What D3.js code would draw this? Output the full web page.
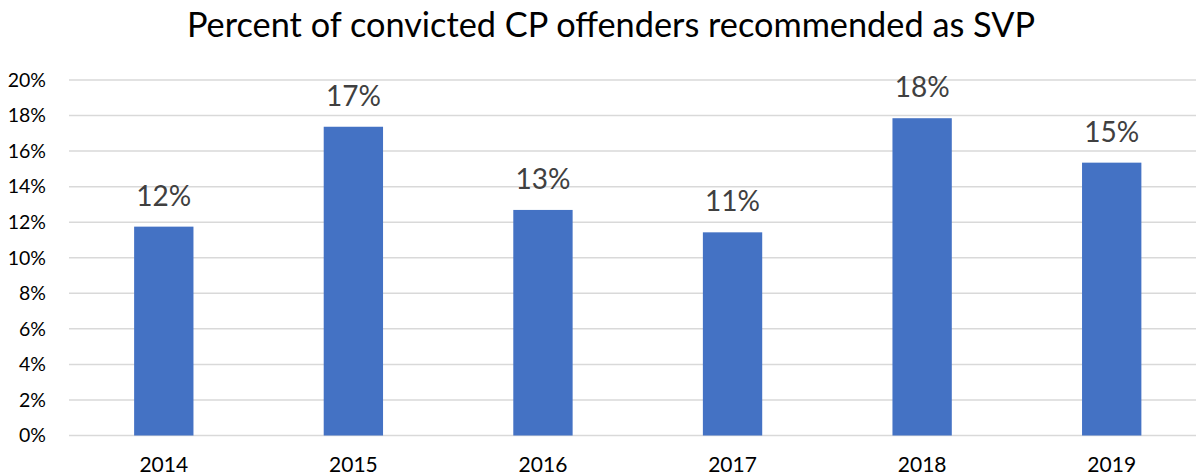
<!DOCTYPE html>
<html>
<head>
<meta charset="utf-8">
<script src="https://cdn.jsdelivr.net/npm/d3@7"></script>
<style>
  html, body { margin: 0; padding: 0; background: #fff; }
  svg { display: block; font-family: Lato, "Open Sans", sans-serif; }
</style>
</head>
<body>
<svg id="chart" width="1196" height="476"></svg>
<script>
// Share of convicted CP offenders recommended as SVP, by year
const years = ["2014", "2015", "2016", "2017", "2018", "2019"];
const shares = [0.1175, 0.1737, 0.1269, 0.1143, 0.1785, 0.1535];
const yTicks = [0, 0.02, 0.04, 0.06, 0.08, 0.10, 0.12, 0.14, 0.16, 0.18, 0.20];
const title = "Percent of convicted CP offenders recommended as SVP";

const svg = d3.select("#chart");
const W = 1196, H = 476;
const plot = { left: 69, right: 1206.5, top: 80, bottom: 435.5 };

const x = d3.scaleBand()
  .domain(years)
  .range([plot.left, plot.right])
  .paddingInner(0.687)
  .paddingOuter(0.3435);

const y = d3.scaleLinear()
  .domain([0, 0.20])
  .range([plot.bottom, plot.top]);

const pct = d3.format(".0%");

// Title
svg.append("text")
  .attr("x", 611)
  .attr("y", 37)
  .attr("text-anchor", "middle")
  .attr("font-size", 34.3)
  .attr("fill", "#000")
  .text(title);

// Horizontal gridlines
svg.append("g")
  .selectAll("line")
  .data(yTicks)
  .join("line")
  .attr("x1", plot.left)
  .attr("x2", W)
  .attr("y1", d => y(d))
  .attr("y2", d => y(d))
  .attr("stroke", "#d9d9d9")
  .attr("stroke-width", 1.5);

// Y axis labels
const yAxis = svg.append("g")
  .attr("transform", `translate(${plot.left},0)`)
  .call(d3.axisLeft(y).tickValues(yTicks).tickFormat(pct).tickSize(0).tickPadding(23));
yAxis.select(".domain").remove();
yAxis.selectAll("text")
  .attr("font-family", "Lato, sans-serif")
  .attr("font-size", 19.5)
  .attr("fill", "#000");

// X axis labels
const xAxis = svg.append("g")
  .attr("transform", `translate(0,${plot.bottom})`)
  .call(d3.axisBottom(x).tickSize(0).tickPadding(22));
xAxis.select(".domain").remove();
xAxis.selectAll("text")
  .attr("font-family", "Lato, sans-serif")
  .attr("font-size", 21)
  .attr("fill", "#000");

// Bars
const data = years.map((yr, i) => ({ year: yr, value: shares[i] }));
svg.append("g")
  .selectAll("rect")
  .data(data)
  .join("rect")
  .attr("x", d => x(d.year))
  .attr("y", d => y(d.value))
  .attr("width", x.bandwidth())
  .attr("height", d => y(0) - y(d.value))
  .attr("fill", "#4472c4");

// Value labels above bars
svg.append("g")
  .selectAll("text")
  .data(data)
  .join("text")
  .attr("x", d => x(d.year) + x.bandwidth() / 2)
  .attr("y", d => y(d.value) - 21)
  .attr("text-anchor", "middle")
  .attr("font-size", 28)
  .attr("fill", "#404040")
  .text(d => pct(d.value));
</script>
</body>
</html>
